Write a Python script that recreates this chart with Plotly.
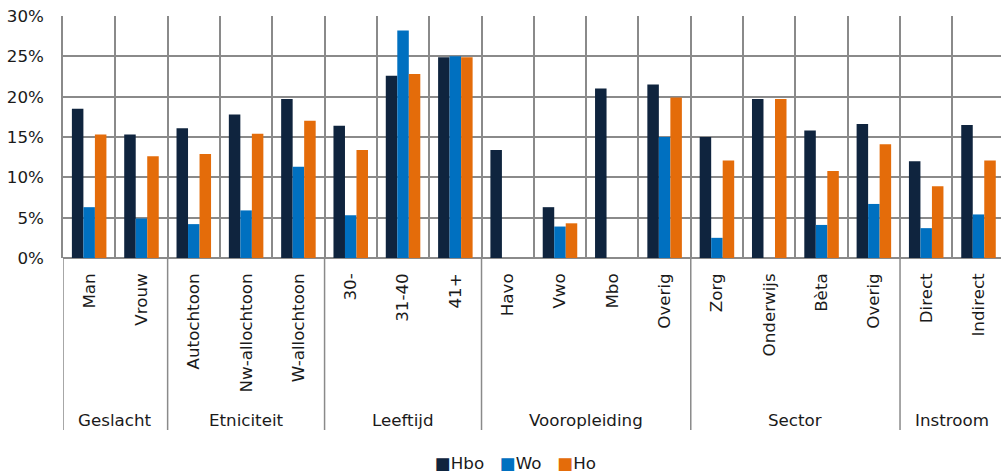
import plotly.graph_objects as go

groups = ["Geslacht", "Etniciteit", "Leeftijd", "Vooropleiding", "Sector", "Instroom"]
group_sizes = [2, 3, 3, 4, 4, 2]
categories = ["Man", "Vrouw",
              "Autochtoon", "Nw-allochtoon", "W-allochtoon",
              "30-", "31-40", "41+",
              "Havo", "Vwo", "Mbo", "Overig",
              "Zorg", "Onderwijs", "Bèta", "Overig\u200b",
              "Direct", "Indirect"]

hbo = [0.185, 0.153, 0.161, 0.178, 0.197, 0.164, 0.226, 0.249,
       0.134, 0.063, 0.210, 0.215, 0.150, 0.197, 0.158, 0.166, 0.120, 0.165]
wo = [0.063, 0.049, 0.042, 0.059, 0.113, 0.053, 0.282, 0.250,
      None, 0.039, None, 0.150, 0.025, None, 0.041, 0.067, 0.037, 0.054]
ho = [0.153, 0.126, 0.129, 0.154, 0.170, 0.134, 0.228, 0.249,
      None, 0.043, None, 0.199, 0.121, 0.197, 0.108, 0.141, 0.089, 0.121]

series = [("Hbo", hbo, "#0F243E"), ("Wo", wo, "#0070C0"), ("Ho", ho, "#E46C0A")]

FONT = "DejaVu Sans"
FS = 16.7
GRID = "#8a8a8a"
GW = 1.5
TXT = "#1a1a1a"

fig = go.Figure()
for name, vals, col in series:
    fig.add_trace(go.Bar(x=categories, y=vals, name=name, marker_color=col,
                         marker_line_width=0, showlegend=False))

W, H = 1001, 473
ml, mt, mb, mr = 63, 16, 215, 0
plot_h = H - mt - mb
plot_w = W - ml - mr

def py(pix):
    # pixel y (from top of page) -> paper coordinate
    return (H - mb - pix) / plot_h

def px(pix):
    return (pix - ml) / plot_w

shapes = []
annotations = []
start = 0
bounds = [-0.5]
for g, n in zip(groups, group_sizes):
    end = start + n
    annotations.append(dict(x=(start + end - 1) / 2, y=py(420), xref="x", yref="paper",
                            text=g, showarrow=False, font=dict(family=FONT, size=FS, color=TXT),
                            xanchor="center", yanchor="middle"))
    bounds.append(end - 0.5)
    start = end

for b in bounds[:-1]:
    shapes.append(dict(type="line", xref="x", yref="paper", x0=b, x1=b,
                       y0=py(430), y1=0, line=dict(color=GRID, width=GW)))

# legend built as one text line with coloured squares
legend_text = "&nbsp;&nbsp;&nbsp;".join(
    f'<span style="color:{col}">■</span>{name}' for name, _, col in series)
annotations.append(dict(x=px(515), y=py(463), xref="paper", yref="paper",
                        text=legend_text, showarrow=False, xanchor="center", yanchor="middle",
                        font=dict(family=FONT, size=FS, color=TXT)))

fig.update_layout(
    width=W, height=H,
    margin=dict(l=ml, r=mr, t=mt, b=mb, autoexpand=False),
    paper_bgcolor="white", plot_bgcolor="white",
    barmode="group", bargap=0.34, bargroupgap=0,
    font=dict(family=FONT, size=FS, color=TXT),
    shapes=shapes, annotations=annotations, showlegend=False,
    xaxis=dict(type="category", range=[-0.5, 17.43], tickson="boundaries",
               showgrid=True, gridcolor=GRID, gridwidth=GW, ticks="",
               tickangle=-90, ticklabelstandoff=11, showline=False, automargin=False,
               tickfont=dict(family=FONT, size=FS, color=TXT), zeroline=False),
    yaxis=dict(range=[0, 0.30], dtick=0.05, tickformat=".0%", automargin=False,
               showgrid=True, gridcolor=GRID, gridwidth=GW, ticks="",
               showline=True, linecolor=GRID, linewidth=GW, mirror=False,
               ticklabelstandoff=14, zeroline=True, zerolinecolor=GRID, zerolinewidth=GW,
               tickfont=dict(family=FONT, size=FS, color=TXT)),
)

fig.write_html("out.html", config={"displayModeBar": False},
               post_script="document.body.style.margin='0';document.body.style.overflow='hidden';")
